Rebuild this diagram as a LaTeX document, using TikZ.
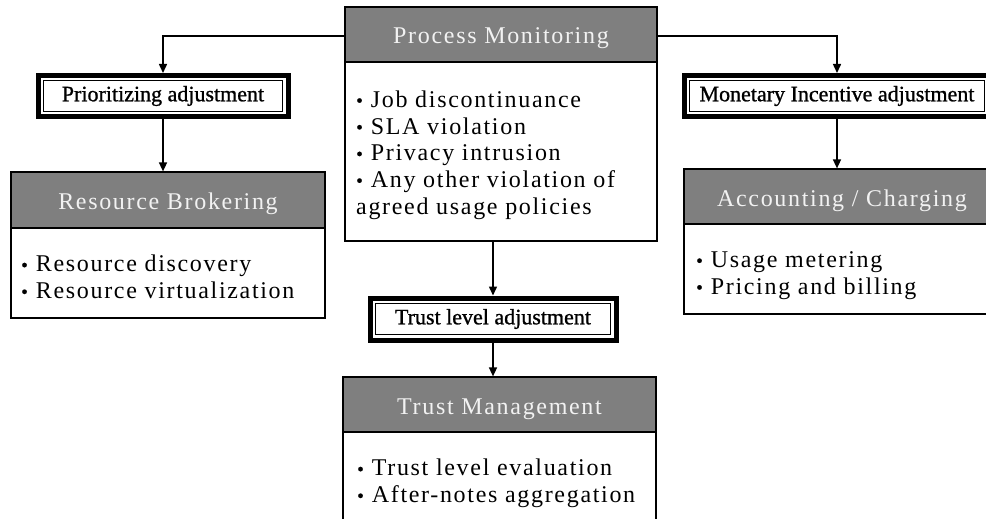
\documentclass[tikz,border=0pt]{standalone}
\usepackage{fontspec}
\setmainfont{Liberation Serif}
\newfontfamily\wideserif[LetterSpace=7]{Liberation Serif}
\newfontfamily\adjserif[FakeBold=1]{Liberation Serif}
\usetikzlibrary{arrows.meta}
\definecolor{hdrgray}{HTML}{7F7F7F}
\definecolor{hdrtext}{HTML}{F2F2F2}
\newcommand{\bul}{\raisebox{0.5pt}{\fontsize{19}{19}\selectfont\adjserif •}\hspace{8pt}}
\tikzset{
  hdr/.style={draw=black, line width=1.2pt, fill=hdrgray, text=hdrtext, inner sep=0pt,
    text height=19pt, text depth=0pt,
    font=\wideserif\fontsize{24}{26}\selectfont},
  bodybox/.style={draw=black, line width=1.2pt, fill=white, inner sep=0pt},
  bodytext/.style={anchor=west, inner sep=0pt, align=left,
    font=\wideserif\fontsize{24}{26.7}\selectfont},
  adjbox/.style={draw=black, line width=1pt, fill=white, inner sep=0pt,
    font=\adjserif\fontsize{22}{26}\selectfont},
  arr/.style={draw=black, line width=1.5pt, -{Triangle[length=9pt,width=8pt]}}
}
\begin{document}
\begin{tikzpicture}[x=1pt,y=-1pt]
\useasboundingbox (0,0) rectangle (986,519);
\clip (0,0) rectangle (986,519);
\fill[white] (0,0) rectangle (986,519);

% Process Monitoring
\node[hdr, minimum width=312, minimum height=55] (pmh) at (501,34.5) {Process Monitoring};
\node[bodybox, minimum width=312, minimum height=179] (pmb) at (501,151.5) {};
\node[bodytext] (pmt) at (356,155) {\bul Job discontinuance\\
\bul SLA violation\\
\bul Privacy intrusion\\
\bul Any other violation of\\
agreed usage policies};

% Resource Brokering
\node[hdr, minimum width=314, minimum height=56] (rbh) at (168,200) {Resource Brokering};
\node[bodybox, minimum width=314, minimum height=90] (rbb) at (168,273) {};
\node[bodytext] (rbt) at (21,277) {\bul Resource discovery\\
\bul Resource virtualization};

% Accounting / Charging
\node[hdr, minimum width=316, minimum height=55] (ach) at (842,196.5) {Accounting / Charging};
\node[bodybox, minimum width=316, minimum height=90] (acb) at (842,269) {};
\node[bodytext] (act) at (696,275.5) {\bul Usage metering\\
\bul Pricing and billing};

% Trust Management
\node[hdr, minimum width=313, minimum height=55] (tmh) at (499.5,404.5) {Trust Management};
\node[bodybox, minimum width=313, minimum height=108] (tmb) at (499.5,486) {};
\node[bodytext] (tmt) at (357,483.5) {\bul Trust level evaluation\\
\bul After-notes aggregation};

% Adjustment boxes
\node[adjbox, minimum width=239, minimum height=30] (pa) at (163,96) {Prioritizing adjustment};
\node[adjbox, minimum width=295, minimum height=30] (ma) at (837,96) {Monetary Incentive adjustment};
\node[adjbox, minimum width=235, minimum height=31] (ta) at (493,319) {Trust level adjustment};
\foreach \n in {pa,ma,ta}{
  \draw[line width=5pt] ([shift={(-5,-5)}]\n.north west) rectangle ([shift={(5,5)}]\n.south east);
}

% Connectors
\draw[arr] (pmh.west |- 0,36) -| ([yshift=7.5pt]pa.north);
\draw[arr] (pmh.east |- 0,36) -| ([yshift=7.5pt]ma.north);
\draw[arr] ([yshift=-7.5pt]pa.south) -- (pa.south |- rbh.north);
\draw[arr] ([yshift=-7.5pt]ma.south) -- (ma.south |- ach.north);
\draw[arr] (ta.north |- pmb.south) -- ([yshift=7.5pt]ta.north);
\draw[arr] ([yshift=-7.5pt]ta.south) -- (ta.south |- tmh.north);
\end{tikzpicture}
\end{document}
